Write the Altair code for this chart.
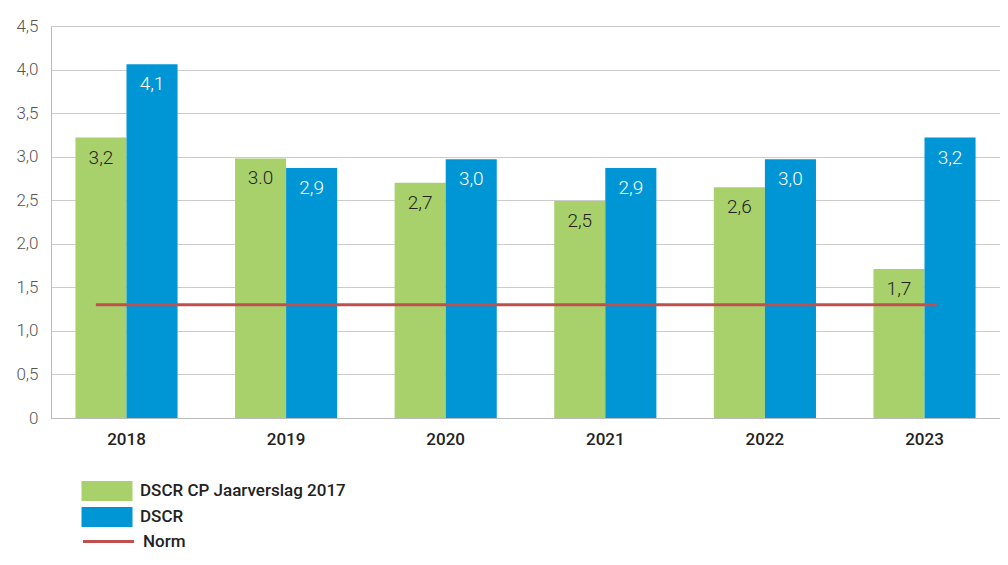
import altair as alt
import pandas as pd

years = ["2018", "2019", "2020", "2021", "2022", "2023"]
series_names = ["DSCR CP Jaarverslag 2017", "DSCR"]
green_values = [3.22, 2.98, 2.70, 2.49, 2.65, 1.71]
blue_values = [4.06, 2.87, 2.97, 2.87, 2.97, 3.22]
green_labels = ["3,2", "3.0", "2,7", "2,5", "2,6", "1,7"]
blue_labels = ["4,1", "2,9", "3,0", "2,9", "3,0", "3,2"]
norm_value = 1.3
norm_name = "Norm"
y_ticks = [0, 0.5, 1.0, 1.5, 2.0, 2.5, 3.0, 3.5, 4.0, 4.5]

GREEN = "#a9d16b"
BLUE = "#0096d6"
RED = "#c0504d"

rows = []
for i, y in enumerate(years):
    rows.append({"year": y, "series": series_names[0], "value": green_values[i], "label": green_labels[i]})
    rows.append({"year": y, "series": series_names[1], "value": blue_values[i], "label": blue_labels[i]})
df = pd.DataFrame(rows)

norm_df = pd.DataFrame([{"start": years[0], "end": years[-1], "value": norm_value, "name": norm_name}])

FONT = "Roboto"

x_enc = alt.X(
    "year:N",
    sort=years,
    title=None,
    scale=alt.Scale(paddingInner=0.36, paddingOuter=0.153, align=0.5),
    axis=alt.Axis(labelAngle=0, labelFontSize=17, labelFontWeight=500, labelColor="#222",
                  labelPadding=13, ticks=False, domainColor="#bbbbbb", labelFont=FONT),
)
y_enc = alt.Y(
    "value:Q",
    title=None,
    scale=alt.Scale(domain=[0, 4.5], nice=False),
    axis=alt.Axis(values=y_ticks, ticks=False, labelFontSize=17, labelColor="#555",
                  labelFontWeight=300, labelPadding=13, gridColor="#cccccc",
                  domainColor="#bbbbbb", labelFont=FONT,
                  labelExpr="datum.value == 0 ? '0' : replace(format(datum.value, '.1f'), '.', ',')"),
)
xoff = alt.XOffset("series:N", sort=series_names,
                   scale=alt.Scale(domain=series_names, paddingInner=0, paddingOuter=0))

bars = alt.Chart(df).mark_bar().encode(
    x=x_enc,
    y=y_enc,
    xOffset=xoff,
    color=alt.Color(
        "series:N",
        sort=series_names,
        scale=alt.Scale(domain=series_names, range=[GREEN, BLUE]),
        legend=alt.Legend(
            title=None, orient="none", legendX=46, legendY=455,
            symbolType="M-2.55,-1H2.55V1H-2.55Z", symbolSize=400,
            symbolStrokeWidth=0, symbolOpacity=1,
            labelFontSize=17, labelFontWeight=500, labelColor="#222", labelFont=FONT,
            labelOffset=23, rowPadding=6, padding=0, labelLimit=0,
        ),
    ),
)

texts = alt.Chart(df).mark_text(baseline="middle", align="center", dy=20, fontSize=19,
                                 fontWeight=300, font=FONT).encode(
    x=alt.X("year:N", sort=years),
    y=alt.Y("value:Q"),
    xOffset=alt.XOffset("series:N", sort=series_names),
    text="label:N",
    color=alt.condition(alt.datum.series == "DSCR", alt.value("white"), alt.value("#222")),
)

norm = alt.Chart(norm_df).mark_rule(strokeWidth=3).encode(
    x=alt.X("start:N", bandPosition=0.2),
    x2=alt.X2("end:N", bandPosition=0.62),
    y=alt.Y("value:Q"),
    stroke=alt.Stroke(
        "name:N",
        scale=alt.Scale(domain=[norm_name], range=[RED]),
        legend=alt.Legend(
            title=None, orient="none", legendX=46, legendY=504,
            symbolType="M-2.55,0H2.55", symbolSize=400, symbolStrokeWidth=3,
            labelFontSize=17, labelFontWeight=500, labelColor="#222", labelFont=FONT,
            labelOffset=23, padding=0, labelLimit=0,
        ),
    ),
)

chart = alt.layer(bars, texts, norm).resolve_scale(color="independent").properties(
    width=949, height=392,
    autosize=alt.AutoSizeParams(type="none"),
    padding={"top": 18, "left": 43, "right": 0, "bottom": 134},
).configure_view(stroke=None).configure(font=FONT)

chart.save("out.html", embed_options={"renderer": "svg", "actions": False})
